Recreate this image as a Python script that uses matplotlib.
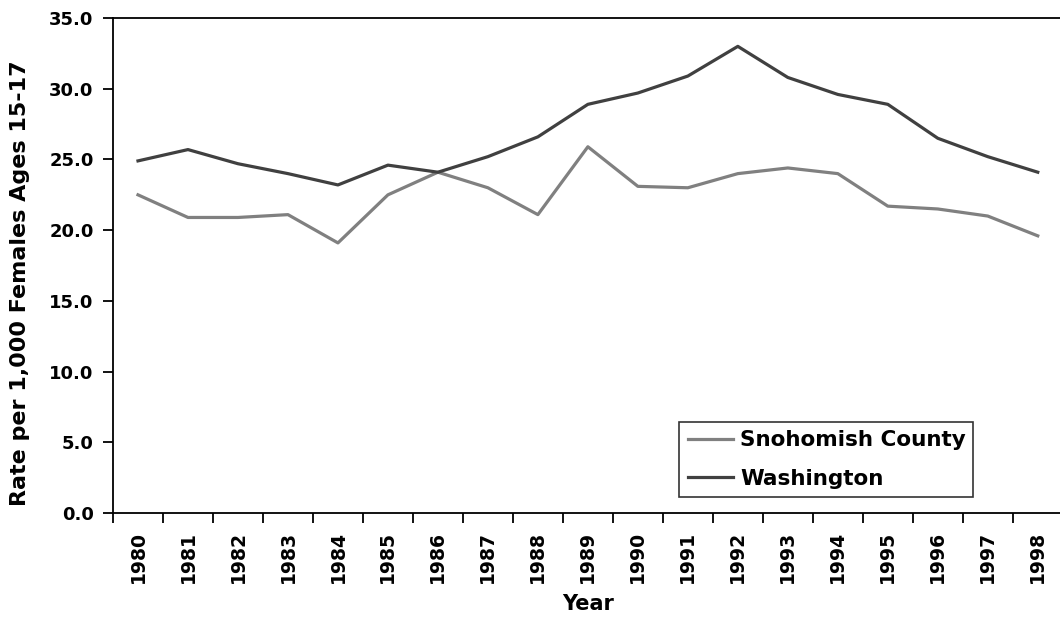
import numpy as np
import matplotlib.pyplot as plt

plt.rcParams['font.family'] = ['DejaVu Sans']
plt.rcParams['font.weight'] = 'bold'

years = [str(y) for y in range(1980, 1999)]
snohomish = [22.5, 20.9, 20.9, 21.1, 19.1, 22.5, 24.1, 23.0, 21.1, 25.9,
             23.1, 23.0, 24.0, 24.4, 24.0, 21.7, 21.5, 21.0, 19.6]
washington = [24.9, 25.7, 24.7, 24.0, 23.2, 24.6, 24.1, 25.2, 26.6, 28.9,
              29.7, 30.9, 33.0, 30.8, 29.6, 28.9, 26.5, 25.2, 24.1]

fig = plt.figure(figsize=(10.6, 6.21), dpi=100)
ax = fig.add_axes([0.1066, 0.1739, 0.896, 0.797])

x = np.arange(len(years))
ax.plot(x, snohomish, color='#808080', lw=2.3, label='Snohomish County')
ax.plot(x, washington, color='#404040', lw=2.3, label='Washington')

ax.set_xlim(-0.5, len(years) - 0.5)
ax.set_ylim(0, 35)
ax.set_yticks(np.arange(0, 35.1, 5))
ax.set_yticklabels([f'{v:.1f}' for v in np.arange(0, 35.1, 5)])

# category labels in the middle, ticks on the boundaries
ax.set_xticks(np.arange(-0.5, len(years), 1))
ax.set_xticklabels([])
ax.set_xticks(x, minor=True)
ax.set_xticklabels(years, minor=True, rotation=90)
ax.tick_params(axis='x', which='major', direction='out', length=7, width=1.3)
ax.tick_params(axis='x', which='minor', length=0, pad=13, labelsize=13.5)
ax.tick_params(axis='y', direction='out', length=7, width=1.3, labelsize=13,
               pad=7)

for side in ['left', 'bottom', 'top']:
    ax.spines[side].set_linewidth(1.3)
ax.spines['right'].set_visible(False)

ax.set_xlabel('Year', fontsize=15, fontweight='bold', labelpad=8)
ax.set_ylabel('Rate per 1,000 Females Ages 15-17', fontsize=16,
              fontweight='bold')
ax.yaxis.set_label_coords(-0.087, 0.465)

leg = ax.legend(loc='lower left', bbox_to_anchor=(0.596, 0.032, 0.309, 0.16),
                mode='expand', fancybox=False, frameon=True, fontsize=15.5,
                handlelength=2.1, borderaxespad=0, labelspacing=0.85,
                handletextpad=0.35, borderpad=0.4)
leg.get_frame().set_edgecolor('black')
leg.get_frame().set_linewidth(1.2)

fig.savefig('out.png', dpi=100)
